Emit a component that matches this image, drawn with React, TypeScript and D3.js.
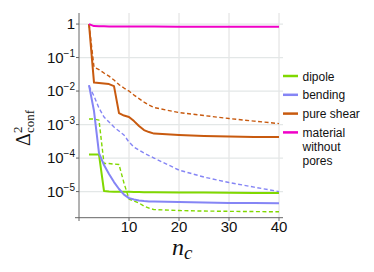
import React from 'react';
import * as d3 from 'd3';

const nc = [2, 3, 4, 5, 6, 7, 8, 9, 10, 11, 12, 13, 14, 15, 20, 25, 30, 35, 40];

const dipoleSolid = [1.27e-4, 1.27e-4, 1.27e-4, 1.04e-5, 1.0e-5, 9.9e-6, 9.9e-6, 9.8e-6, 9.8e-6, 9.7e-6, 9.7e-6, 9.6e-6, 9.6e-6, 9.6e-6, 9.4e-6, 9.3e-6, 9.2e-6, 9.1e-6, 9.0e-6];
const dipoleDashed = [1.46e-3, 1.46e-3, 1.36e-3, 6.85e-5, 6.85e-5, 6.62e-5, 6.4e-5, 1.79e-5, 5.97e-6, 5.2e-6, 4.54e-6, 3.69e-6, 3.22e-6, 2.9e-6, 2.71e-6, 2.62e-6, 2.57e-6, 2.53e-6, 2.49e-6];
const bendingSolid = [0.0151, 0.00253, 1.41e-4, 6.18e-5, 3.33e-5, 1.92e-5, 1.19e-5, 8.13e-6, 6.39e-6, 5.77e-6, 5.38e-6, 5.2e-6, 5.09e-6, 5.02e-6, 4.86e-6, 4.7e-6, 4.54e-6, 4.54e-6, 4.48e-6];
const bendingDashed = [0.0141, 0.00709, 0.00311, 0.00168, 0.00119, 8.42e-4, 6.4e-4, 4.86e-4, 3.0e-4, 2.13e-4, 1.73e-4, 1.41e-4, 1.19e-4, 1.0e-4, 4.38e-5, 2.71e-5, 1.86e-5, 1.36e-5, 1.0e-5];
const shearSolid = [1.0, 0.01795, 0.01733, 0.01675, 0.01618, 0.0141, 0.0022, 0.00186, 0.00168, 0.00127, 9.02e-4, 6.85e-4, 5.97e-4, 5.38e-4, 4.86e-4, 4.54e-4, 4.38e-4, 4.29e-4, 4.24e-4];
const shearDashed = [1.0, 0.052, 0.0438, 0.0345, 0.028, 0.0213, 0.0156, 0.0123, 0.01, 0.0076, 0.00597, 0.0047, 0.00382, 0.00322, 0.00228, 0.00186, 0.00151, 0.00127, 0.00107];
const material = [1.0, 0.87, 0.86, 0.855, 0.85, 0.85, 0.848, 0.846, 0.845, 0.844, 0.843, 0.842, 0.84, 0.84, 0.837, 0.834, 0.831, 0.828, 0.825];

const xTicks = [10, 20, 30, 40];
const yExps = [0, -1, -2, -3, -4, -5];

const legendNames = ['dipole', 'bending', 'pure shear', 'material\nwithout\npores'];
const colors = ['#80d800', '#8585f5', '#c85a0f', '#f000c8'];

const series = [
  { values: dipoleSolid, color: colors[0], dashed: false },
  { values: dipoleDashed, color: colors[0], dashed: true },
  { values: bendingSolid, color: colors[1], dashed: false },
  { values: bendingDashed, color: colors[1], dashed: true },
  { values: shearSolid, color: colors[2], dashed: false },
  { values: shearDashed, color: colors[2], dashed: true },
  { values: material, color: colors[3], dashed: false },
];

const sans = '"Liberation Sans", Arial, sans-serif';
const serif = '"Liberation Serif", "Times New Roman", serif';

const App = () => {
  const x = d3.scaleLinear().domain([0, 40]).range([79, 279]);
  const y = d3.scaleLog().domain([Math.pow(10, -5.78), Math.pow(10, 0.33)]).range([217.7, 13]);

  const line = d3.line<number>()
    .x((d, i) => x(nc[i]))
    .y(d => y(d));

  return (
    <svg width={374} height={272} style={{ position: 'absolute', left: 0, top: 0, background: '#fff' }}>
      {/* grid */}
      {xTicks.map(t => (
        <line key={'gx' + t} x1={x(t)} x2={x(t)} y1={13} y2={217.7} stroke="#dedede" strokeWidth={1} />
      ))}
      {yExps.map(e => (
        <line key={'gy' + e} x1={79} x2={283} y1={y(Math.pow(10, e))} y2={y(Math.pow(10, e))} stroke="#e3e7e7" strokeWidth={1.2} />
      ))}

      {/* axes */}
      <line x1={79} x2={79} y1={13} y2={221} stroke="#666" strokeWidth={1} />
      <line x1={75} x2={283} y1={217.7} y2={217.7} stroke="#666" strokeWidth={1} />
      {xTicks.map(t => (
        <line key={'tx' + t} x1={x(t)} x2={x(t)} y1={217.7} y2={221} stroke="#666" />
      ))}
      {yExps.map(e => (
        <line key={'ty' + e} x1={76} x2={79} y1={y(Math.pow(10, e))} y2={y(Math.pow(10, e))} stroke="#666" />
      ))}

      {xTicks.map(t => (
        <text key={'lx' + t} x={x(t)} y={232} textAnchor="middle" fontFamily={sans} fontSize={15} fill="#111">{t}</text>
      ))}
      {yExps.map(e => (
        <text key={'ly' + e} x={75} y={y(Math.pow(10, e)) + 5} textAnchor="end" fontFamily={sans} fontSize={15} fill="#111">
          {e === 0 ? '1' : (
            <>
              <tspan>10</tspan>
              <tspan fontSize={10} dy={-6}>{'\u2212' + Math.abs(e)}</tspan>
            </>
          )}
        </text>
      ))}

      {/* series */}
      {series.map((s, i) => (
        <path key={'s' + i} d={line(s.values) || ''} fill="none" stroke={s.color}
          strokeWidth={s.dashed ? 1.4 : 2}
          strokeDasharray={s.dashed ? '4,2.5' : undefined}
          strokeLinejoin="round" />
      ))}

      {/* axis titles */}
      <text x={172} y={255} fontFamily={serif} fontStyle="italic" fontSize={24} fill="#111">
        n<tspan fontSize={19} dy={4}>c</tspan>
      </text>
      <g transform="translate(30,146) rotate(-90)">
        <text x={0} y={0} fontFamily={serif} fontSize={20} fill="#111">{'\u0394'}</text>
        <text x={13} y={-8} fontFamily={serif} fontSize={13} fill="#111">2</text>
        <text x={13} y={4} fontFamily={serif} fontSize={13} fill="#111">conf</text>
      </g>

      {/* legend */}
      {legendNames.map((name, i) => {
        const ly = 76 + i * 18.8;
        return (
          <g key={'lg' + i}>
            <line x1={283} x2={298} y1={ly} y2={ly} stroke={colors[i]} strokeWidth={2.5} />
            <text x={302.5} y={ly + 4.5} fontFamily={sans} fontSize={12} fill="#111">
              {name.split('\n').map((part, j) => (
                <tspan key={j} x={302.5} dy={j === 0 ? 0 : 13.8}>{part}</tspan>
              ))}
            </text>
          </g>
        );
      })}
    </svg>
  );
};

export default App;
